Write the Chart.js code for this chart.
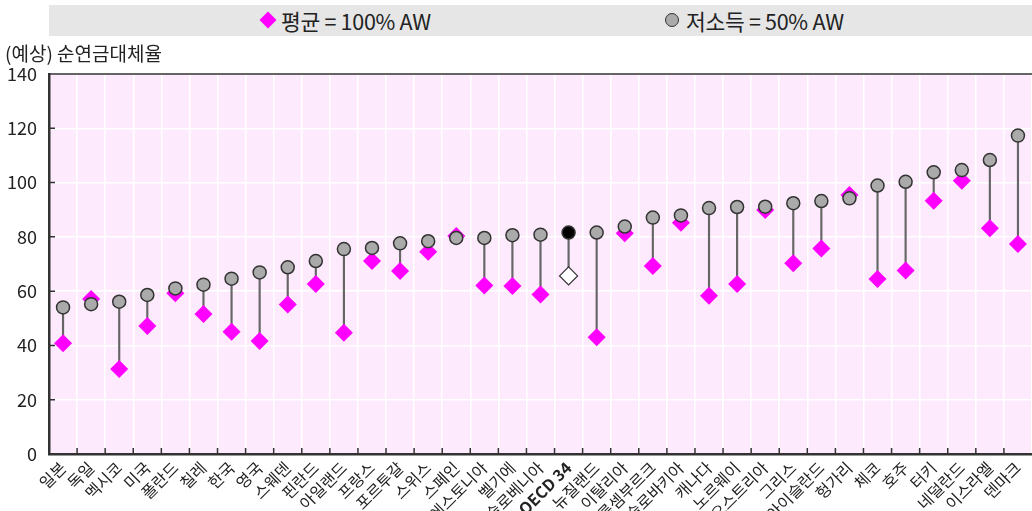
<!DOCTYPE html>
<html>
<head>
<meta charset="utf-8">
<script src="https://cdn.jsdelivr.net/npm/chart.js@4"></script>
<style>
  body { margin: 0; background: #fff; font-family: "Noto Sans CJK KR", "Noto Sans", sans-serif; overflow: hidden; }
  #wrap { position: relative; width: 1032px; height: 511px; overflow: hidden; }
  #legend { position: absolute; left: 49px; top: 5px; width: 983px; height: 31px; background: #e6e6e6; }
  .item { position: absolute; top: 0; height: 31px; line-height: 31px; font-size: 21.5px; color: #222; white-space: nowrap; letter-spacing: -0.3px; }
  .dia { position: absolute; width: 12px; height: 12px; background: #ff00ff; transform: rotate(45deg); top: 9px; }
  .dot { position: absolute; width: 12px; height: 12px; border-radius: 50%; background: #aaa; border: 1.5px solid #333; top: 8px; }
  #ytitle { position: absolute; left: 5px; top: 39px; font-size: 19px; color: #222; }
  canvas { position: absolute; left: 0; top: 0; }
</style>
</head>
<body>
<div id="wrap">
  <canvas id="myChart" width="1032" height="511"></canvas>
  <div id="legend">
    <div class="dia" style="left:213px"></div>
    <div class="item" style="left:232px">평균 = 100% AW</div>
    <div class="dot" style="left:616px"></div>
    <div class="item" style="left:637px">저소득 = 50% AW</div>
  </div>
  <div id="ytitle">(예상) 순연금대체율</div>
</div>
<script>
// 국가 이름
var countries = ['일본', '독일', '멕시코', '미국', '폴란드', '칠레', '한국', '영국', '스웨덴', '핀란드',
  '아일랜드', '프랑스', '포르투갈', '스위스', '스페인', '에스토니아', '벨기에', '슬로베니아', 'OECD 34', '뉴질랜드',
  '이탈리아', '룩셈부르크', '슬로바키아', '캐나다', '노르웨이', '오스트리아', '그리스', '아이슬란드', '헝가리', '체코',
  '호주', '터키', '네덜란드', '이스라엘', '덴마크'];
// 저소득 = 50% AW
var lowEarner = [54.0, 55.2, 56.1, 58.6, 61.0, 62.4, 64.6, 66.9, 68.8, 71.1,
  75.5, 75.9, 77.6, 78.4, 79.6, 79.6, 80.6, 80.8, 81.6, 81.6,
  83.8, 87.1, 87.9, 90.6, 91.0, 91.1, 92.4, 93.2, 94.2, 98.9,
  100.3, 103.8, 104.6, 108.3, 117.3];
// 평균 = 100% AW
var avgEarner = [40.8, 57.1, 31.3, 47.2, 59.2, 51.6, 45.0, 41.6, 55.1, 62.6,
  44.7, 71.1, 67.4, 74.5, 80.3, 62.1, 61.9, 58.8, 65.6, 43.0,
  81.3, 69.3, 85.2, 58.3, 62.6, 89.9, 70.3, 75.7, 95.4, 64.5,
  67.6, 93.3, 100.7, 83.2, 77.4];
var yTicks = [0, 20, 40, 60, 80, 100, 120, 140];

var oecdIdx = countries.indexOf('OECD 34');
var ranges = countries.map(function(c, i){ return [lowEarner[i], avgEarner[i]]; });

// 축 안쪽 눈금과 위쪽 테두리
var innerTicks = {
  id: 'innerTicks',
  afterDraw: function(chart){
    var ctx = chart.ctx, a = chart.chartArea;
    var x = chart.scales.x, y = chart.scales.y;
    ctx.save();
    ctx.strokeStyle = '#333';
    ctx.lineWidth = 1.5;
    ctx.beginPath();
    yTicks.forEach(function(v){
      var py = y.getPixelForValue(v);
      ctx.moveTo(a.left, py); ctx.lineTo(a.left + 6, py);
    });
    for (var i = 1; i < countries.length; i++) {
      var px = (x.getPixelForValue(i - 1) + x.getPixelForValue(i)) / 2;
      ctx.moveTo(px, a.bottom); ctx.lineTo(px, a.bottom - 6);
    }
    ctx.moveTo(a.left, a.top); ctx.lineTo(a.right, a.top);
    ctx.stroke();
    ctx.restore();
  }
};

var bgPlugin = {
  id: 'plotBg',
  beforeDraw: function(chart){
    var ctx = chart.ctx, a = chart.chartArea;
    ctx.save();
    ctx.fillStyle = '#fdeafd';
    ctx.fillRect(a.left, a.top, a.right - a.left, a.bottom - a.top);
    ctx.restore();
  }
};

var ctx = document.getElementById('myChart').getContext('2d');
var chart = new Chart(ctx, {
  type: 'bar',
  data: {
    labels: countries,
    datasets: [{
      type: 'line',
      label: '저소득 = 50% AW',
      data: lowEarner,
      showLine: false,
      clip: false,
      pointStyle: 'circle',
      pointRadius: 6.5,
      pointBorderWidth: 1.5,
      pointBorderColor: '#333',
      pointBackgroundColor: countries.map(function(c, i){ return i === oecdIdx ? '#000' : '#aaa'; }),
      order: 0
    }, {
      type: 'line',
      label: '평균 = 100% AW',
      data: avgEarner,
      showLine: false,
      clip: false,
      pointStyle: 'rectRot',
      pointRadius: 9,
      pointBorderWidth: countries.map(function(c, i){ return i === oecdIdx ? 1.2 : 0; }),
      pointBorderColor: '#333',
      pointBackgroundColor: countries.map(function(c, i){ return i === oecdIdx ? '#fff' : '#ff00ff'; }),
      order: 1
    }, {
      label: 'range',
      data: ranges,
      backgroundColor: '#666',
      barThickness: 1.5,
      order: 2
    }]
  },
  options: {
    responsive: false,
    maintainAspectRatio: false,
    animation: false,
    // 점 크기 때문에 생기는 자동 여백 끄기
    layout: { autoPadding: false, padding: { top: 74, right: 0, left: 0, bottom: 0 } },
    plugins: { legend: { display: false }, tooltip: { enabled: false } },
    scales: {
      x: {
        offset: true,
        grid: { offset: true, color: '#fff', lineWidth: 1.5, drawTicks: false },
        border: { color: '#333', width: 2.5 },
        ticks: {
          autoSkip: false,
          minRotation: 45,
          maxRotation: 45,
          padding: 4,
          color: '#222',
          font: function(c){
            return c.index === oecdIdx
              ? { family: '"Noto Sans CJK KR"', size: 16, weight: 'bold' }
              : { family: '"Noto Sans CJK KR"', size: 16 };
          }
        },
        afterFit: function(s){ s.height = 57; s.paddingRight = 0; }
      },
      y: {
        min: 0,
        max: 140,
        afterBuildTicks: function(s){ s.ticks = yTicks.map(function(v){ return { value: v }; }); },
        grid: { color: '#fff', lineWidth: 1.5, drawTicks: false },
        border: { color: '#333', width: 2.5 },
        ticks: {
          padding: 12,
          color: '#222',
          font: { family: '"Noto Sans CJK KR"', size: 18 }
        },
        afterFit: function(s){ s.width = 49; }
      }
    }
  },
  plugins: [bgPlugin, innerTicks]
});
</script>
</body>
</html>
